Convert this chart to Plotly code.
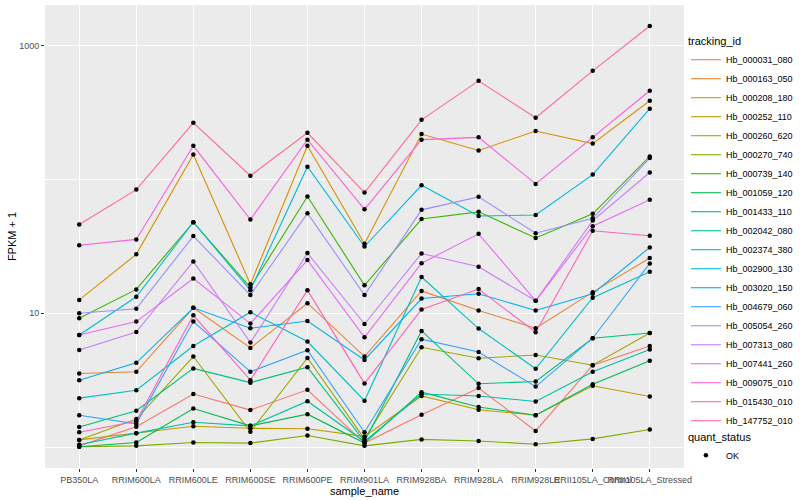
import plotly.graph_objects as go

categories = ["PB350LA", "RRIM600LA", "RRIM600LE", "RRIM600SE", "RRIM600PE", "RRIM901LA",
              "RRIM928BA", "RRIM928LA", "RRIM928LE", "RRII105LA_Control", "RRII105LA_Stressed"]

tracking_ids = ["Hb_000031_080", "Hb_000163_050", "Hb_000208_180", "Hb_000252_110", "Hb_000260_620",
                "Hb_000270_740", "Hb_000739_140", "Hb_001059_120", "Hb_001433_110", "Hb_002042_080",
                "Hb_002374_380", "Hb_002900_130", "Hb_003020_150", "Hb_004679_060", "Hb_005054_260",
                "Hb_007313_080", "Hb_007441_260", "Hb_009075_010", "Hb_015430_010", "Hb_147752_010"]

# FPKM + 1 values per gene, in the order of `categories`
hb_000031_080 = [1.02, 1.42, 2.49, 1.89, 2.68, 1.07, 1.74, 2.76, 1.32, 4.09, 5.70]
hb_000163_050 = [3.55, 3.65, 11.0, 5.51, 11.9, 4.75, 14.7, 10.5, 7.73, 14.4, 25.9]
hb_000208_180 = [12.6, 27.6, 154, 16.5, 179, 33.1, 219, 165, 231, 186, 389]
hb_000252_110 = [1.13, 1.27, 1.43, 1.38, 1.37, 1.20, 2.41, 1.90, 1.73, 2.87, 2.39]
hb_000260_620 = [1.13, 1.62, 4.75, 1.30, 4.64, 1.15, 5.57, 4.61, 4.88, 4.09, 7.13]
hb_000270_740 = [1.005, 1.02, 1.08, 1.07, 1.22, 1.02, 1.14, 1.11, 1.05, 1.15, 1.35]
hb_000739_140 = [9.18, 15.1, 48.0, 15.6, 74.7, 16.2, 50.7, 57.4, 36.6, 55.5, 149]
hb_001059_120 = [1.005, 1.08, 1.94, 1.44, 1.76, 1.07, 2.57, 1.99, 1.73, 2.95, 4.41]
hb_001433_110 = [1.41, 1.87, 3.87, 3.03, 3.95, 1.10, 7.38, 2.97, 3.09, 6.51, 7.13]
hb_002042_080 = [1.04, 1.27, 1.53, 1.44, 2.20, 1.10, 2.49, 2.41, 2.19, 3.65, 5.36]
hb_002374_380 = [2.32, 2.66, 5.70, 10.2, 6.15, 2.22, 18.7, 7.69, 3.85, 13.1, 20.5]
hb_002900_130 = [6.89, 13.3, 48.0, 14.9, 125, 31.6, 90.7, 53.4, 54.3, 109, 339]
hb_003020_150 = [3.16, 4.26, 11.0, 7.73, 8.76, 4.48, 12.9, 14.0, 10.5, 14.0, 31.1]
hb_004679_060 = [1.73, 1.49, 8.67, 3.66, 5.29, 1.29, 6.40, 5.14, 2.83, 6.51, 23.6]
hb_005054_260 = [10.0, 10.8, 37.8, 13.7, 56.1, 13.7, 59.4, 74.3, 39.7, 51.4, 145]
hb_007313_080 = [5.32, 7.25, 24.4, 6.04, 28.2, 8.32, 28.0, 22.3, 12.4, 49.4, 113]
hb_007441_260 = [6.89, 8.67, 18.2, 8.38, 25.0, 6.62, 23.7, 39.3, 12.4, 44.8, 70.6]
hb_009075_010 = [32.3, 35.7, 179, 50.3, 199, 60.0, 199, 207, 92.9, 207, 462]
hb_015430_010 = [1.29, 1.56, 9.66, 3.16, 14.9, 2.99, 10.7, 15.2, 7.21, 41.4, 38.0]
hb_147752_010 = [46.2, 84.2, 266, 107, 224, 80.0, 280, 548, 290, 651, 1410]

series_values = [hb_000031_080, hb_000163_050, hb_000208_180, hb_000252_110, hb_000260_620,
                 hb_000270_740, hb_000739_140, hb_001059_120, hb_001433_110, hb_002042_080,
                 hb_002374_380, hb_002900_130, hb_003020_150, hb_004679_060, hb_005054_260,
                 hb_007313_080, hb_007441_260, hb_009075_010, hb_015430_010, hb_147752_010]

colors = ["#F8766D", "#EA8331", "#D89000", "#C09B00", "#A3A500", "#7CAE00", "#39B600", "#00BB4E",
          "#00BF7D", "#00C1A3", "#00BFC4", "#00BAE0", "#00B0F6", "#35A2FF", "#9590FF", "#C77CFF",
          "#E76BF3", "#FA62DB", "#FF62BC", "#FF6C91"]

y_tick_values = [10, 1000]
y_tick_labels = ["10", "1000"]
y_minor_values = [1, 100]

FONT = "Liberation Sans, Arial, sans-serif"

fig = go.Figure()
for name, vals, col in zip(tracking_ids, series_values, colors):
    fig.add_trace(go.Scatter(x=categories, y=vals, mode="lines", name=name,
                             line=dict(color=col, width=1.1), legend="legend"))

all_x = [c for _ in series_values for c in categories]
all_y = [v for vals in series_values for v in vals]
fig.add_trace(go.Scatter(x=all_x, y=all_y, mode="markers", name="OK",
                         marker=dict(color="black", size=4.5, symbol="circle"),
                         legend="legend2"))

fig.update_layout(
    width=800, height=500,
    margin=dict(l=45, r=116, t=5, b=32, autoexpand=False),
    paper_bgcolor="white", plot_bgcolor="#EBEBEB",
    font=dict(family=FONT, color="black"),
    legend=dict(title=dict(text="tracking_id", font=dict(size=11, color="black")),
                font=dict(size=9, color="black"), x=1.003, xanchor="left",
                y=0.944, yanchor="top", itemwidth=30, bgcolor="rgba(0,0,0,0)",
                tracegroupgap=0),
    legend2=dict(title=dict(text="quant_status", font=dict(size=11, color="black")),
                 font=dict(size=9, color="black"), x=1.003, xanchor="left",
                 y=0.09, yanchor="top", itemwidth=30, bgcolor="rgba(0,0,0,0)"),
    showlegend=True,
)

fig.update_xaxes(
    type="category", categoryorder="array", categoryarray=categories,
    range=[-0.6, len(categories) - 0.4],
    tickmode="array", tickvals=categories, ticktext=categories, tickangle=0,
    tickfont=dict(size=9, color="#4D4D4D", family=FONT),
    ticks="outside", ticklen=3, tickcolor="#333333", tickwidth=1,
    showgrid=True, gridcolor="white", gridwidth=1.1, zeroline=False, showline=False,
    automargin=False,
    title=dict(text="sample_name", font=dict(size=11, color="black"), standoff=0),
)

fig.update_yaxes(
    type="log", range=[-0.157, 3.306],
    tickmode="array", tickvals=y_tick_values, ticktext=y_tick_labels,
    tickfont=dict(size=9, color="#4D4D4D", family=FONT),
    ticks="outside", ticklen=3, tickcolor="#333333", tickwidth=1,
    showgrid=True, gridcolor="white", gridwidth=1.1, zeroline=False, showline=False,
    minor=dict(tickvals=y_minor_values, showgrid=True, gridcolor="white", gridwidth=0.5, ticklen=0),
    automargin=False,
    title=dict(text="FPKM + 1", font=dict(size=11, color="black"), standoff=0),
)

fig.write_html("out.html", config={"displayModeBar": False},
               post_script="document.body.style.margin='0';document.body.style.padding='0';")
